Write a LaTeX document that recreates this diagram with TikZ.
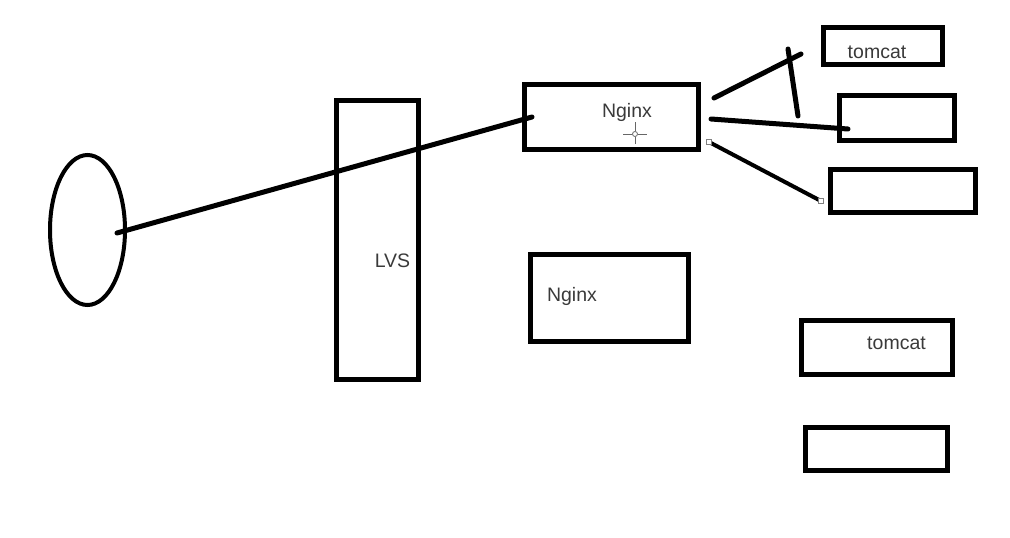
\documentclass[tikz,border=0pt]{standalone}
\usepackage{fontspec}
\setmainfont{Liberation Sans}
\usetikzlibrary{shapes.geometric}
\definecolor{txt}{HTML}{3A3A3A}
\tikzset{
  box/.style={draw=black, line width=5.5pt, rectangle, inner sep=0pt},
  lbl/.style={text=txt, font=\fontsize{19.5}{22}\selectfont, anchor=base, inner sep=0pt},
  wire/.style={draw=black, line width=5pt, line cap=round},
  handle/.style={draw=gray, fill=white, line width=0.7pt, rectangle, minimum size=5pt, inner sep=0pt},
  cursor/.style={draw=black!60, line width=1pt}
}
\begin{document}
\begin{tikzpicture}[x=1pt, y=-1pt]
\useasboundingbox[fill=white] (0,0) rectangle (1010,538);
% client
\node[draw=black, line width=4pt, ellipse, inner sep=0pt, minimum width=75pt, minimum height=150pt] (client) at (87.5,230) {};
% boxes
\node[box, minimum width=82pt, minimum height=279pt] (lvs) at (377.5,240) {};
\node[box, minimum width=174pt, minimum height=65pt] (ng1) at (611.5,117) {};
\node[box, minimum width=158pt, minimum height=87pt] (ng2) at (609.5,298) {};
\node[box, minimum width=119pt, minimum height=37pt] (t1) at (883,46) {};
\node[box, minimum width=115pt, minimum height=45pt] (t2) at (897,118) {};
\node[box, minimum width=145pt, minimum height=43pt] (t3) at (903,191) {};
\node[box, minimum width=151pt, minimum height=54pt] (t4) at (877,347.5) {};
\node[box, minimum width=142pt, minimum height=43pt] (t5) at (876.5,449) {};
% labels
\node[lbl] (lvslbl) at (392.5,267) {LVS};
\node[lbl] (ng1lbl) at (627,117) {Nginx};
\node[lbl] (ng2lbl) at (572,301) {Nginx};
\node[lbl] (t1lbl) at (877,58) {tomcat};
\node[lbl] (t4lbl) at (896.5,349) {tomcat};
% connector end points
\coordinate (cA) at (117,233);
\coordinate (nA) at (532,117);
\coordinate (a1) at (714,98);
\coordinate (a2) at (801,54);
\coordinate (b1) at (788,49);
\coordinate (b2) at (798,116);
\coordinate (c1) at (711,119);
\coordinate (c2) at (848,129);
\coordinate (d1) at (709,142);
\coordinate (d2) at (821,201);
% connectors
\draw[wire] (cA) -- (nA);
\draw[wire] (a1) -- (a2);
\draw[wire] (b1) -- (b2);
\draw[wire] (c1) -- (c2);
\draw[wire, line width=4pt] (d1) -- (d2);
\node[handle] (h1) at (d1) {};
\node[handle] (h2) at (d2) {};
% cursor
\coordinate (cur) at (635,134);
\draw[cursor] ([xshift=-12pt]cur) -- ([xshift=-3pt]cur);
\draw[cursor] ([xshift=3pt]cur) -- ([xshift=12pt]cur);
\draw[cursor] ([yshift=-10pt]cur) -- ([yshift=-3pt]cur);
\draw[cursor] ([yshift=3pt]cur) -- ([yshift=12pt]cur);
\draw[cursor, line width=0.8pt] (cur) circle (2.5pt);
\end{tikzpicture}
\end{document}
